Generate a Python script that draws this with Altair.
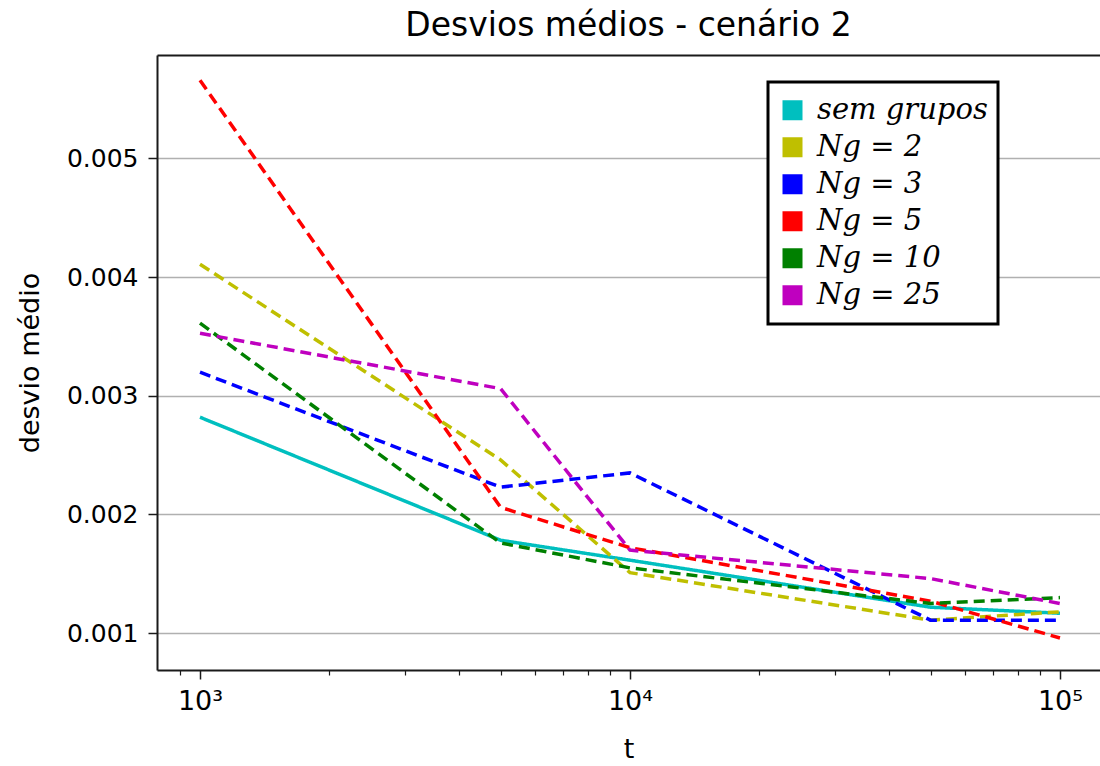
import altair as alt
import pandas as pd

# ---- data ----
t_values = [1000, 5000, 10000, 50000, 100000]
series_names = ["sem grupos", "Ng = 2", "Ng = 3", "Ng = 5", "Ng = 10", "Ng = 25"]
series_colors = ["#00BFBF", "#BFBF00", "#0000FF", "#FF0000", "#008000", "#BF00BF"]
series_styles = ["solid", "dashed", "dashed", "dashed", "dashed", "dashed"]

sem_grupos = [0.002819, 0.001783, 0.001615, 0.001219, 0.001168]
ng_2 = [0.004107, 0.002460, 0.001510, 0.001110, 0.001180]
ng_3 = [0.003198, 0.002230, 0.002350, 0.001110, 0.001110]
ng_5 = [0.005657, 0.002060, 0.001720, 0.001270, 0.000960]
ng_10 = [0.003611, 0.001760, 0.001550, 0.001250, 0.001300]
ng_25 = [0.003526, 0.003060, 0.001700, 0.001460, 0.001250]

major_ticks = [1000, 10000, 100000]
minor_ticks = [900, 2000, 3000, 4000, 5000, 6000, 7000, 8000, 9000,
               20000, 30000, 40000, 50000, 60000, 70000, 80000, 90000]
y_ticks = [0.001, 0.002, 0.003, 0.004, 0.005]
x_domain = [794.3, 123900]
y_domain = [0.00069, 0.00587]

all_series = [sem_grupos, ng_2, ng_3, ng_5, ng_10, ng_25]
rows = []
for name, style, vals in zip(series_names, series_styles, all_series):
    for t, v in zip(t_values, vals):
        rows.append({"t": t, "valor": v, "serie": name, "estilo": style})
df = pd.DataFrame(rows)

FONT = "DejaVu Sans"
SPINE = "#1a1a1a"
xscale = alt.Scale(type="log", domain=x_domain, nice=False)
yscale = alt.Scale(domain=y_domain, nice=False, zero=False)

label_expr = ("datum.value == 1000 ? '10³' : datum.value == 10000 ? '10⁴' : "
              "datum.value == 100000 ? '10⁵' : ''")

y_axis = alt.Axis(values=y_ticks, format=".3f", tickSize=9, tickWidth=1.5,
                  tickColor=SPINE, labelFontSize=25, labelFont=FONT,
                  labelColor="black", labelPadding=10,
                  grid=True, gridColor="#b0b0b0", gridWidth=1.6,
                  domain=True, domainColor=SPINE, domainWidth=2,
                  title="desvio médio", titleFontSize=27,
                  titleFont=FONT, titleFontWeight="normal",
                  titleColor="black", titlePadding=22)

lines = alt.Chart(df).mark_line(strokeWidth=3.5).encode(
    x=alt.X("t:Q", scale=xscale,
            axis=alt.Axis(values=major_ticks, labelExpr=label_expr, orient="bottom",
                          tickSize=9, tickWidth=1.5, tickColor=SPINE,
                          labelFontSize=27, labelFont=FONT, labelColor="black",
                          labelPadding=9, grid=False,
                          domain=True, domainColor=SPINE, domainWidth=2,
                          title="t", titleFontSize=27, titleFont=FONT,
                          titleFontWeight="normal", titleColor="black",
                          titlePadding=22)),
    y=alt.Y("valor:Q", scale=yscale, axis=y_axis),
    color=alt.Color("serie:N",
                    scale=alt.Scale(domain=series_names, range=series_colors),
                    legend=alt.Legend(orient="none", legendX=611, legendY=27,
                                      title=None, symbolType="square",
                                      symbolSize=100, symbolStrokeWidth=10,
                                      symbolOpacity=1,
                                      labelFont="DejaVu Serif",
                                      labelFontStyle="italic",
                                      labelFontSize=29, labelColor="black",
                                      labelLimit=300, labelOffset=10,
                                      clipHeight=36.5,
                                      rowPadding=0, padding=10,
                                      strokeColor="black", fillColor="white")),
    strokeDash=alt.StrokeDash("estilo:N",
                              scale=alt.Scale(domain=["solid", "dashed"],
                                              range=[[1, 0], [11, 6]]),
                              legend=None),
    detail="serie:N",
)

minor = alt.Chart(df).mark_line(opacity=0).encode(
    x=alt.X("t:Q", scale=xscale,
            axis=alt.Axis(values=minor_ticks, labels=False, orient="bottom",
                          tickSize=5, tickWidth=1.2, tickColor=SPINE,
                          grid=False, domain=False, title=None)),
    y=alt.Y("valor:Q", scale=yscale, axis=y_axis),
    detail="serie:N",
)

top = alt.Chart(df).mark_line(opacity=0).encode(
    x=alt.X("t:Q", scale=xscale,
            axis=alt.Axis(values=major_ticks, labels=False, ticks=False,
                          orient="top", grid=False, domain=True,
                          domainColor=SPINE, domainWidth=2, title=None)),
    y=alt.Y("valor:Q", scale=yscale, axis=y_axis),
    detail="serie:N",
)

chart = alt.layer(lines, minor, top).resolve_axis(x="independent").properties(
    width=943,
    height=615,
    autosize=alt.AutoSizeParams(type="none"),
    padding={"left": 157, "top": 55, "right": 0, "bottom": 96},
    title=alt.TitleParams("Desvios médios - cenário 2", fontSize=33, font=FONT,
                          fontWeight="normal", color="black", anchor="middle",
                          frame="group", offset=12),
).configure(background="white").configure_view(strokeWidth=0).configure_legend(
    strokeWidth=3
)

chart.save("out.html", embed_options={"renderer": "svg", "actions": False})
